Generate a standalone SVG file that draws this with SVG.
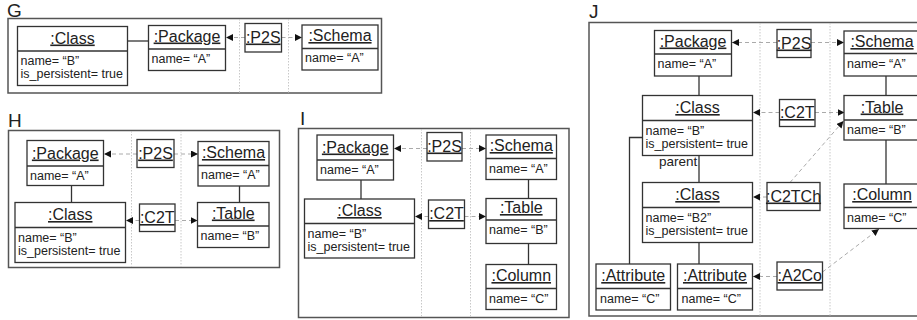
<svg xmlns="http://www.w3.org/2000/svg" width="917" height="320" viewBox="0 0 917 320">
<style>
text{font-family:"Liberation Sans",Arial,sans-serif;fill:#222}
.lbl{font-size:19px}
.t{font-size:16px;text-anchor:middle;text-decoration:underline}
.a{font-size:12.5px}
.box{fill:#fff;stroke:#333;stroke-width:1.3}
.sep{stroke:#333;stroke-width:1.3}
.frame{fill:#fff;stroke:#555;stroke-width:1.5}
.div{stroke:#c8c8c8;stroke-width:1;stroke-dasharray:1.5 1.5;fill:none}
.ln{stroke:#333;stroke-width:1.3;fill:none}
.dash{stroke:#aaa;stroke-width:1;stroke-dasharray:4 3;fill:none;marker-end:url(#ah)}
</style>
<defs>
<marker id="ah" markerUnits="userSpaceOnUse" markerWidth="8" markerHeight="8" refX="7" refY="3.5" orient="auto">
<path d="M0,0 L7,3.5 L0,7 z" fill="#111"/>
</marker>
</defs>

<!-- Panel frames and labels -->
<g id="panelG">
<text class="lbl" x="7" y="17">G</text>
<rect class="frame" x="8" y="18.5" width="373.5" height="74.5"/>
<line class="div" x1="239.5" y1="19" x2="239.5" y2="92.5"/>
<line class="div" x1="288.5" y1="19" x2="288.5" y2="92.5"/>
</g>
<g id="panelH">
<text class="lbl" x="8" y="127">H</text>
<rect class="frame" x="8.5" y="130.5" width="271" height="137"/>
<line class="div" x1="131.5" y1="131" x2="131.5" y2="267"/>
<line class="div" x1="181" y1="131" x2="181" y2="267"/>
</g>
<g id="panelI">
<text class="lbl" x="300" y="125">I</text>
<rect class="frame" x="298.5" y="128.5" width="270.5" height="189"/>
<line class="div" x1="421.5" y1="129" x2="421.5" y2="317"/>
<line class="div" x1="470.5" y1="129" x2="470.5" y2="317"/>
</g>
<g id="panelJ">
<text class="lbl" x="589" y="18">J</text>
<rect class="frame" x="589" y="22.5" width="340" height="293.5"/>
<line class="div" x1="760" y1="23" x2="760" y2="315.5"/>
<line class="div" x1="830" y1="23" x2="830" y2="315.5"/>
</g>

<!-- Connectors -->
<g id="connectors">
<!-- G -->
<line class="ln" x1="127.5" y1="41" x2="148.5" y2="41"/>
<line class="dash" x1="245" y1="37.5" x2="226" y2="37.5"/>
<line class="dash" x1="281.5" y1="37.5" x2="302" y2="37.5"/>
<!-- H -->
<line class="ln" x1="71.5" y1="185.5" x2="71.5" y2="202.5"/>
<line class="ln" x1="239.5" y1="186" x2="239.5" y2="202.5"/>
<line class="dash" x1="137" y1="154" x2="104" y2="154"/>
<line class="dash" x1="174" y1="154" x2="198" y2="154"/>
<line class="dash" x1="139.5" y1="220.5" x2="126" y2="220.5"/>
<line class="dash" x1="175" y1="220.5" x2="197.5" y2="220.5"/>
<!-- I -->
<line class="ln" x1="361" y1="180" x2="361" y2="199"/>
<line class="ln" x1="528.5" y1="179.5" x2="528.5" y2="198.5"/>
<line class="ln" x1="528.5" y1="243.5" x2="528.5" y2="264.5"/>
<line class="dash" x1="427" y1="148.5" x2="394" y2="148.5"/>
<line class="dash" x1="462" y1="148.5" x2="486" y2="148.5"/>
<line class="dash" x1="428.5" y1="216.5" x2="415" y2="216.5"/>
<line class="dash" x1="464.5" y1="216.5" x2="486" y2="216.5"/>
<!-- J -->
<line class="ln" x1="699" y1="76" x2="699" y2="95.5"/>
<line class="ln" x1="699" y1="155.5" x2="699" y2="182.5"/>
<line class="ln" x1="699" y1="242.5" x2="699" y2="264"/>
<polyline class="ln" points="642.5,137.5 629.5,137.5 629.5,264"/>
<line class="ln" x1="886" y1="76" x2="886" y2="95.5"/>
<line class="ln" x1="886" y1="140" x2="886" y2="184"/>
<line class="dash" x1="777" y1="42.5" x2="732" y2="42.5"/>
<line class="dash" x1="811" y1="42.5" x2="844" y2="42.5"/>
<line class="dash" x1="779.5" y1="112.5" x2="753" y2="112.5"/>
<line class="dash" x1="815" y1="112.5" x2="844.5" y2="112.5"/>
<line class="dash" x1="767" y1="197" x2="753" y2="197"/>
<line class="dash" x1="790" y1="182.5" x2="843.5" y2="121"/>
<line class="dash" x1="777" y1="276.5" x2="753" y2="276.5"/>
<line class="dash" x1="822.5" y1="272" x2="879" y2="229"/>
<text class="a" x="659" y="166" style="font-size:13.5px">parent</text>
</g>

<!-- G nodes -->
<g id="G-Class"><rect class="box" x="17.5" y="26.5" width="110" height="59"/><line class="sep" x1="17.5" y1="51" x2="127.5" y2="51"/><text class="t" x="72.5" y="43.5">:Class</text><text class="a" x="20.5" y="64.5">name= “B”</text><text class="a" x="20.5" y="78">is_persistent= true</text></g>
<g id="G-Package"><rect class="box" x="148.5" y="25.5" width="77" height="45"/><line class="sep" x1="148.5" y1="49" x2="225.5" y2="49"/><text class="t" x="187" y="41.5">:Package</text><text class="a" x="151.5" y="62.5">name= “A”</text></g>
<g id="G-P2S"><rect class="box" x="245" y="23.5" width="36.5" height="28.5"/><text class="t" x="263.25" y="42.5">:P2S</text></g>
<g id="G-Schema"><rect class="box" x="302" y="25" width="76" height="45"/><line class="sep" x1="302" y1="48.5" x2="378" y2="48.5"/><text class="t" x="340" y="41">:Schema</text><text class="a" x="305" y="62">name= “A”</text></g>

<!-- H nodes -->
<g id="H-Package"><rect class="box" x="27" y="140.5" width="76.5" height="45"/><line class="sep" x1="27" y1="166" x2="103.5" y2="166"/><text class="t" x="65.25" y="158.5">:Package</text><text class="a" x="30" y="179.5">name= “A”</text></g>
<g id="H-Class"><rect class="box" x="15" y="202.5" width="110.5" height="60"/><line class="sep" x1="15" y1="227.5" x2="125.5" y2="227.5"/><text class="t" x="70.25" y="220">:Class</text><text class="a" x="18" y="241.5">name= “B”</text><text class="a" x="18" y="255">is_persistent= true</text></g>
<g id="H-P2S"><rect class="box" x="137" y="139.5" width="37" height="28"/><text class="t" x="155.5" y="158.5">:P2S</text></g>
<g id="H-C2T"><rect class="box" x="139.5" y="204" width="35.5" height="27.5"/><text class="t" x="157.25" y="223">:C2T</text></g>
<g id="H-Schema"><rect class="box" x="198" y="141.5" width="71" height="44.5"/><line class="sep" x1="198" y1="165.5" x2="269" y2="165.5"/><text class="t" x="233.5" y="158">:Schema</text><text class="a" x="201" y="179">name= “A”</text></g>
<g id="H-Table"><rect class="box" x="197.5" y="202.5" width="71.5" height="45"/><line class="sep" x1="197.5" y1="226" x2="269" y2="226"/><text class="t" x="233.25" y="218.5">:Table</text><text class="a" x="200.5" y="239.5">name= “B”</text></g>

<!-- I nodes -->
<g id="I-Package"><rect class="box" x="317" y="135" width="76.5" height="45"/><line class="sep" x1="317" y1="160" x2="393.5" y2="160"/><text class="t" x="355.25" y="152.5">:Package</text><text class="a" x="320" y="173.5">name= “A”</text></g>
<g id="I-Class"><rect class="box" x="304.5" y="199" width="110" height="59"/><line class="sep" x1="304.5" y1="223.5" x2="414.5" y2="223.5"/><text class="t" x="359.5" y="216">:Class</text><text class="a" x="307.5" y="237.5">name= “B”</text><text class="a" x="307.5" y="251">is_persistent= true</text></g>
<g id="I-P2S"><rect class="box" x="427" y="132.5" width="35" height="28.5"/><text class="t" x="444.5" y="151.5">:P2S</text></g>
<g id="I-C2T"><rect class="box" x="428.5" y="200" width="36" height="28.5"/><text class="t" x="446.5" y="219">:C2T</text></g>
<g id="I-Schema"><rect class="box" x="486" y="135" width="70.5" height="44.5"/><line class="sep" x1="486" y1="158.5" x2="556.5" y2="158.5"/><text class="t" x="521.25" y="151">:Schema</text><text class="a" x="489" y="172.5">name= “A”</text></g>
<g id="I-Table"><rect class="box" x="486" y="198.5" width="70.5" height="45"/><line class="sep" x1="486" y1="220" x2="556.5" y2="220"/><text class="t" x="521.25" y="213">:Table</text><text class="a" x="489" y="234">name= “B”</text></g>
<g id="I-Column"><rect class="box" x="486" y="264.5" width="70.5" height="45"/><line class="sep" x1="486" y1="288.5" x2="556.5" y2="288.5"/><text class="t" x="521.25" y="281">:Column</text><text class="a" x="489" y="302.5">name= “C”</text></g>

<!-- J nodes -->
<g id="J-Package"><rect class="box" x="654.5" y="30.5" width="77" height="45.5"/><line class="sep" x1="654.5" y1="54" x2="731.5" y2="54"/><text class="t" x="693" y="46.5">:Package</text><text class="a" x="657.5" y="68">name= “A”</text></g>
<g id="J-Class1"><rect class="box" x="642.5" y="95.5" width="110" height="60"/><line class="sep" x1="642.5" y1="120.5" x2="752.5" y2="120.5"/><text class="t" x="697.5" y="113">:Class</text><text class="a" x="645.5" y="134.5">name= “B”</text><text class="a" x="645.5" y="148">is_persistent= true</text></g>
<g id="J-Class2"><rect class="box" x="642.5" y="182.5" width="110" height="60"/><line class="sep" x1="642.5" y1="207.5" x2="752.5" y2="207.5"/><text class="t" x="697.5" y="200">:Class</text><text class="a" x="645.5" y="221.5">name= “B2”</text><text class="a" x="645.5" y="235">is_persistent= true</text></g>
<g id="J-Attribute1"><rect class="box" x="596" y="264" width="74.5" height="46"/><line class="sep" x1="596" y1="288.5" x2="670.5" y2="288.5"/><text class="t" x="633.25" y="281">:Attribute</text><text class="a" x="600" y="303">name= “C”</text></g>
<g id="J-Attribute2"><rect class="box" x="677.5" y="264" width="75" height="46"/><line class="sep" x1="677.5" y1="288.5" x2="752.5" y2="288.5"/><text class="t" x="715" y="281">:Attribute</text><text class="a" x="681.5" y="303">name= “C”</text></g>
<g id="J-P2S"><rect class="box" x="777" y="29.5" width="34" height="28"/><text class="t" x="794" y="48.5">:P2S</text></g>
<g id="J-C2T"><rect class="box" x="779.5" y="99.5" width="35.5" height="27"/><text class="t" x="797.25" y="118">:C2T</text></g>
<g id="J-C2TCh"><rect class="box" x="767" y="182.5" width="53" height="28"/><text class="t" x="793.5" y="201.5">:C2TCh</text></g>
<g id="J-A2Co"><rect class="box" x="777" y="262" width="45.5" height="28"/><text class="t" x="799.75" y="281">:A2Co</text></g>
<g id="J-Schema"><rect class="box" x="844" y="31" width="76" height="45"/><line class="sep" x1="844" y1="53.5" x2="920" y2="53.5"/><text class="t" x="882" y="47">:Schema</text><text class="a" x="847" y="68">name= “A”</text></g>
<g id="J-Table"><rect class="box" x="844" y="95.5" width="76" height="44.5"/><line class="sep" x1="844" y1="120" x2="920" y2="120"/><text class="t" x="882" y="112.5">:Table</text><text class="a" x="847" y="133.5">name= “B”</text></g>
<g id="J-Column"><rect class="box" x="844" y="184" width="76" height="44.5"/><line class="sep" x1="844" y1="207.5" x2="920" y2="207.5"/><text class="t" x="882" y="200">:Column</text><text class="a" x="847" y="221.5">name= “C”</text></g>
</svg>
